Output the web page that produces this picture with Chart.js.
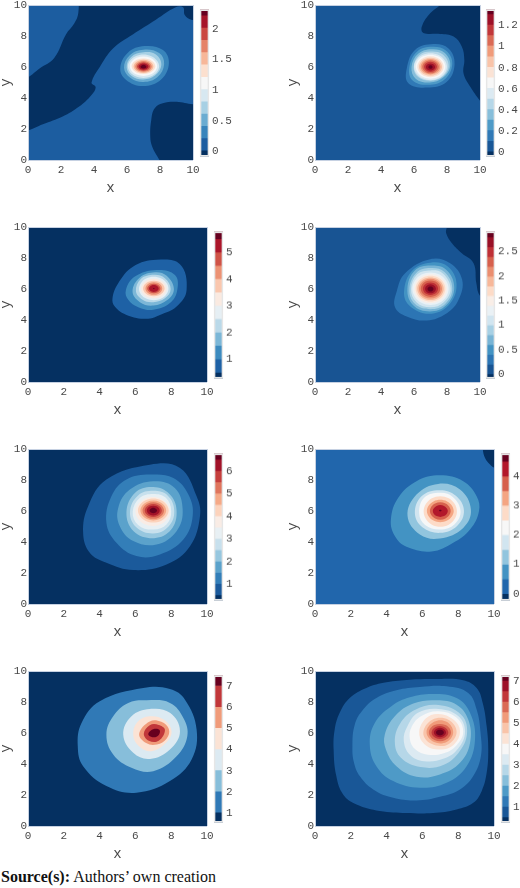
<!DOCTYPE html>
<html><head><meta charset="utf-8">
<script src="https://cdn.jsdelivr.net/npm/chart.js@4"></script>
<style>
html,body{margin:0;padding:0;background:#fff;width:520px;height:888px;overflow:hidden}
canvas{position:absolute}
#src{position:absolute;left:1px;top:868px;font:16px "Liberation Serif",serif;color:#111;white-space:nowrap}
</style></head><body>
<div id="src"><b>Source(s):</b> Authors’ own creation</div>
<script>
// Colour-bar band edges and tick labels
const p1Edges=[-0.08,0.02,0.22,0.42,0.62,0.82,1.02,1.22,1.42,1.62,1.82,2.02,2.22,2.31];
const p2Edges=[-0.04,0.01,0.11,0.21,0.31,0.41,0.51,0.61,0.71,0.81,0.91,1.01,1.11,1.21,1.31,1.35];
const p3Edges=[0.29,0.52,1.02,1.52,2.02,2.52,3.02,3.52,4.02,4.52,5.02,5.52,5.79];
const p4Edges=[-0.09,0,0.2,0.4,0.6,0.8,1,1.2,1.4,1.6,1.8,2,2.2,2.4,2.6,2.8,2.91];
const p5Edges=[0.28,0.52,1.02,1.52,2.02,2.52,3.02,3.52,4.02,4.52,5.02,5.52,6.02,6.52,6.77];
const p6Edges=[-0.23,0,0.5,1,1.5,2,2.5,3,3.5,4,4.5,4.76];
const p7Edges=[0.55,1.03,2.03,3.03,4.03,5.03,6.03,7.03,7.5];
const p8Edges=[0.27,0.53,1.03,1.53,2.03,2.53,3.03,3.53,4.03,4.53,5.03,5.53,6.03,6.53,7.03,7.26];
const p1Ticks=[0,0.5,1,1.5,2];
const p2Ticks=[0,0.2,0.4,0.6,0.8,1,1.2];
const p3Ticks=[1,2,3,4,5];
const p4Ticks=[0,0.5,1,1.5,2,2.5];
const p5Ticks=[1,2,3,4,5,6];
const p6Ticks=[0,1,2,3,4];
const p7Ticks=[1,2,3,4,5,6,7];
const p8Ticks=[1,2,3,4,5,6,7];
const axisTicks=[0,2,4,6,8,10];
const p1Base=1,p2Base=1,p3Base=0,p4Base=1,p5Base=0,p6Base=1,p7Base=0,p8Base=0;
// Contours: [band, closed?, x,y pairs in data units]
const p1Contours=[
[0,0,[3.05,11,3.05,9.5,2.8,8.8,2.3,8.1,1.6,6.6,.7,5.9,0,5.33,-1,4.8,-1,1.6,0,1.9,.9,2.3,2.1,2.8,3.1,3.45,3.85,4.2,4.1,4.7,3.85,5,4.35,6,5.15,7.2,6.35,8.1,7.75,9.05,8.95,9.85,9.4,9.85,9.5,9.35,9.9,9.05,11,9.1,11,11]],
[0,0,[11,3.6,10,3.6,9,3.76,8.17,3.66,7.67,3.33,7.47,2.58,7.41,1.5,7.53,.86,7.97,0,8.5,-1,11,-1]],
[2,1,[8.54,6.24,8.18,7.1,7.06,7.35,6.05,6.92,5.59,5.9,5.95,5.16,6.96,4.77,8.07,5.2]],
[3,1,[8.25,6.2,7.95,6.9,7,7.12,6.15,6.75,5.82,5.95,6.2,5.3,7,5.03,7.85,5.35]],
[4,1,[8.08,6.15,7.75,6.8,7,6.95,6.25,6.65,5.98,5.97,6.3,5.4,7,5.2,7.7,5.45]],
[5,1,[7.95,6.05,7.48,6.7,6.52,6.7,6.05,6.05,6.52,5.4,7.48,5.4]],
[6,1,[7.83,6.05,7.42,6.59,6.58,6.59,6.17,6.05,6.58,5.51,7.42,5.51]],
[7,1,[7.72,6.05,7.36,6.48,6.64,6.48,6.28,6.05,6.64,5.62,7.36,5.62]],
[8,1,[7.6,6.04,7.3,6.4,6.7,6.4,6.4,6.04,6.7,5.68,7.3,5.68]],
[9,1,[7.5,6.04,7.25,6.33,6.75,6.33,6.5,6.04,6.75,5.75,7.25,5.75]],
[10,1,[7.4,6.03,7.2,6.26,6.8,6.26,6.6,6.03,6.8,5.8,7.2,5.8]],
[11,1,[7.3,6.03,7.15,6.2,6.85,6.2,6.7,6.03,6.85,5.86,7.15,5.86]],
[12,1,[7.18,6.02,7.09,6.12,6.91,6.12,6.82,6.02,6.91,5.92,7.09,5.92]]];
const p2Contours=[
[0,0,[8.4,11,7.59,10,6.98,9.46,6.47,8.6,6.57,8.2,7.59,8.13,8.4,7.96,8.9,7.3,9.05,6.45,9,5.6,9.41,4.73,10,3.83,11,2.5,11,11]],
[2,1,[8.46,6.2,8.09,7.2,7.18,7.48,6.06,7.1,5.56,5.9,5.66,4.95,6.78,4.67,7.99,5.05]],
[3,1,[8.32,6.2,7.95,7.05,7.1,7.3,6.2,7,5.72,6,5.9,5.15,6.85,4.85,7.85,5.2]],
[4,1,[8.2,6.1,7.85,6.92,7.05,7.15,6.25,6.85,5.85,6,6.1,5.25,6.95,5,7.75,5.3]],
[5,1,[8.1,6.05,7.75,6.8,7,7,6.3,6.75,5.98,6,6.25,5.35,7,5.12,7.7,5.35]],
[6,1,[8,6.02,7.5,6.77,6.5,6.77,6,6.02,6.5,5.27,7.5,5.27]],
[7,1,[7.9,6.02,7.45,6.69,6.55,6.69,6.1,6.02,6.55,5.35,7.45,5.35]],
[8,1,[7.8,6.02,7.4,6.6,6.6,6.6,6.2,6.02,6.6,5.44,7.4,5.44]],
[9,1,[7.7,6.02,7.35,6.52,6.65,6.52,6.3,6.02,6.65,5.52,7.35,5.52]],
[10,1,[7.6,6.02,7.3,6.45,6.7,6.45,6.4,6.02,6.7,5.59,7.3,5.59]],
[11,1,[7.5,6.01,7.25,6.37,6.75,6.37,6.5,6.01,6.75,5.65,7.25,5.65]],
[12,1,[7.39,6.01,7.2,6.29,6.8,6.29,6.61,6.01,6.8,5.73,7.2,5.73]],
[13,1,[7.28,6,7.14,6.2,6.86,6.2,6.72,6,6.86,5.8,7.14,5.8]],
[14,1,[7.13,6,7.07,6.1,6.93,6.1,6.87,6,6.93,5.9,7.07,5.9]]];
const p3Contours=[
[1,1,[7.18,7.88,8.49,7.6,8.86,5.94,8.3,4.87,7.37,4.33,6.62,4.08,5.5,4.33,4.85,4.87,4.72,5.41,5.04,6.37,5.88,7.45]],
[2,1,[7.18,7.23,8.21,6.91,8.34,5.94,7.93,5.09,7,4.66,6.16,4.83,5.6,5.3,5.47,5.94,5.97,6.8]],
[3,1,[8.15,6,7.75,6.85,7.1,7.08,6.25,6.75,5.84,5.85,6.25,5.15,7,4.93,7.8,5.3]],
[4,1,[7.97,6,7.65,6.7,7.05,6.92,6.3,6.65,6.03,5.85,6.4,5.3,7,5.15,7.65,5.4]],
[5,1,[7.85,6.03,7.45,6.68,6.6,6.68,6.2,6,6.6,5.38,7.45,5.38]],
[6,1,[7.75,6.03,7.39,6.57,6.67,6.57,6.31,6.03,6.67,5.49,7.39,5.49]],
[7,1,[7.63,6.03,7.33,6.46,6.73,6.46,6.43,6.03,6.73,5.6,7.33,5.6]],
[8,1,[7.5,6.03,7.27,6.38,6.79,6.38,6.56,6.03,6.79,5.68,7.27,5.68]],
[9,1,[7.4,6.03,7.22,6.29,6.84,6.29,6.66,6.03,6.84,5.77,7.22,5.77]],
[10,1,[7.3,6.03,7.16,6.22,6.9,6.22,6.76,6.03,6.9,5.84,7.16,5.84]],
[11,1,[7.07,6.03,7.05,6.06,7.01,6.06,6.99,6.03,7.01,6,7.05,6]]];
const p4Contours=[
[0,0,[8.1,11,7.99,10,7.95,9.6,8.3,8.95,8.9,8.3,9.61,7.66,9.78,6.37,10,5.56,11,4.5,11,11]],
[2,1,[6.98,7.92,8.19,7.66,8.92,6.59,8.7,5.3,7.99,4.44,6.77,3.97,5.56,4.23,4.85,4.83,4.95,5.84,5.46,7.02]],
[3,1,[8.58,6.3,8.05,7.45,7,7.7,5.9,7.2,5.4,5.9,5.7,4.95,6.9,4.4,8.1,4.95]],
[4,1,[8.44,6.1,7.95,7.25,7,7.52,6.05,7.2,5.6,6,5.95,4.95,6.95,4.55,7.95,4.95]],
[5,1,[8.32,6.05,7.85,7.1,7,7.35,6.15,7.05,5.72,6,6.05,5.05,7,4.7,7.9,5.05]],
[6,1,[8.22,6.02,7.75,7,7,7.2,6.2,6.95,5.82,6,6.15,5.15,7,4.82,7.8,5.15]],
[7,1,[8.1,6.02,7.55,6.93,6.45,6.93,5.9,6.02,6.45,5.11,7.55,5.11]],
[8,1,[8,6.02,7.5,6.83,6.5,6.83,6,6.02,6.5,5.21,7.5,5.21]],
[9,1,[7.9,6.02,7.45,6.74,6.55,6.74,6.1,6.02,6.55,5.3,7.45,5.3]],
[10,1,[7.8,6.02,7.4,6.65,6.6,6.65,6.2,6.02,6.6,5.39,7.4,5.39]],
[11,1,[7.7,6.02,7.35,6.57,6.65,6.57,6.3,6.02,6.65,5.47,7.35,5.47]],
[12,1,[7.59,6.02,7.3,6.48,6.7,6.48,6.41,6.02,6.7,5.56,7.3,5.56]],
[13,1,[7.46,6.02,7.23,6.37,6.77,6.37,6.54,6.02,6.77,5.67,7.23,5.67]],
[14,1,[7.33,6.01,7.17,6.26,6.83,6.26,6.67,6.01,6.83,5.76,7.17,5.76]],
[15,1,[7.18,6,7.09,6.14,6.91,6.14,6.82,6,6.91,5.86,7.09,5.86]]];
const p5Contours=[
[1,1,[6.81,8.99,8.49,8.78,9.42,6.95,9.61,5.67,9.05,3.73,7.74,2.55,5.88,2.19,4.38,2.66,3.45,3.3,3.08,4.59,3.36,6.31,4.38,8.03]],
[2,1,[6.81,8.35,8.12,8.13,8.96,7.06,9.2,5.67,8.68,4.16,7.37,3.2,6.06,3.09,4.94,3.95,4.38,5.24,4.66,6.95,5.5,8.03]],
[3,1,[7,7.92,8.2,7.49,8.64,6.09,8.3,4.7,7.18,3.84,5.88,4.06,5.13,5.02,5.04,6.2,5.69,7.38]],
[4,1,[8.3,6.05,7.9,7.1,7,7.55,6,7.2,5.5,5.95,5.9,4.7,7.05,4.25,8,4.8]],
[5,1,[8.17,6,7.8,7,7,7.3,6.15,7,5.7,5.95,6.05,4.95,7,4.55,7.85,5]],
[6,1,[8,6,7.7,6.85,7,7.1,6.25,6.85,5.85,5.95,6.15,5.1,7,4.8,7.75,5.15]],
[7,1,[7.94,5.97,7.45,6.78,6.49,6.78,6,5.97,6.49,5.16,7.45,5.16]],
[8,1,[7.86,6.03,7.43,6.7,6.57,6.7,6.14,6.03,6.57,5.36,7.43,5.36]],
[9,1,[7.72,6.03,7.36,6.58,6.64,6.58,6.28,6.03,6.64,5.48,7.36,5.48]],
[10,1,[7.6,6.03,7.3,6.49,6.7,6.49,6.4,6.03,6.7,5.57,7.3,5.57]],
[11,1,[7.48,6.03,7.24,6.39,6.76,6.39,6.52,6.03,6.76,5.67,7.24,5.67]],
[12,1,[7.36,6.03,7.18,6.3,6.82,6.3,6.64,6.03,6.82,5.76,7.18,5.76]],
[13,1,[7.21,6.03,7.1,6.18,6.9,6.18,6.79,6.03,6.9,5.88,7.1,5.88]]];
const p6Contours=[
[0,0,[9.3,11,9.37,10,9.5,9.42,9.78,9,10,8.8,11,8.5,11,11]],
[2,1,[6.98,8.3,8.28,7.92,9.03,6.95,9.16,5.99,8.66,4.81,7.72,3.95,6.51,3.39,5.11,3.69,4.46,4.38,4.24,5.45,4.65,6.85,5.67,7.92]],
[3,1,[6.88,7.75,8.1,7.38,8.71,6.09,8.28,4.91,6.98,4.23,5.86,4.48,5.17,5.67,5.67,7.06]],
[4,1,[8.32,6.05,7.85,7,6.95,7.34,5.95,6.95,5.58,5.85,6,4.95,7,4.59,7.95,5.05]],
[5,1,[8.13,6,7.7,6.9,7,7.17,6.1,6.85,5.82,5.85,6.15,5.1,7,4.81,7.8,5.15]],
[6,1,[7.93,5.97,7.47,6.82,6.53,6.82,6.07,5.97,6.53,5.12,7.47,5.12]],
[7,1,[7.75,6,7.38,6.62,6.62,6.62,6.25,6,6.62,5.38,7.38,5.38]],
[8,1,[7.58,6,7.29,6.48,6.71,6.48,6.42,6,6.71,5.52,7.29,5.52]],
[9,1,[7.42,6,7.21,6.33,6.79,6.33,6.58,6,6.79,5.67,7.21,5.67]],
[10,1,[7.07,6.03,7.03,6.08,6.97,6.08,6.93,6.03,6.97,5.98,7.03,5.98]]];
const p7Contours=[
[1,1,[6.44,8.9,7.93,8.84,8.77,8.15,9.42,6.22,9.14,4.29,7.93,2.9,6.06,2.15,4.38,2.58,3.08,3.86,2.78,5.15,2.99,6.65,4.01,8.05]],
[2,1,[6.62,8.11,7.93,7.94,8.68,6.97,8.9,5.79,8.3,4.5,7,3.54,5.78,3.76,4.76,4.61,4.38,5.9,4.76,7.08,5.6,7.94]],
[3,1,[6.81,7.55,7.93,7.3,8.49,6.12,7.93,4.94,6.81,4.33,5.88,4.72,5.32,5.9,5.78,7.08]],
[4,1,[8.02,6.1,7.6,6.85,6.8,7.08,6.1,6.7,5.88,5.85,6.2,5.15,6.9,4.83,7.65,5.3]],
[5,1,[7.87,6.25,7.45,6.72,6.8,6.75,6.21,5.95,6.6,5.35,7.2,5.26,7.75,5.65]],
[6,1,[7.65,6.2,7.3,6.52,6.8,6.5,6.47,5.95,6.75,5.5,7.3,5.5]],
[7,1,[7.37,6.15,7.15,6.27,6.85,6.15,6.72,5.9,6.95,5.73,7.25,5.8]]];
const p8Contours=[
[1,1,[1.04,4.94,1.1,6.22,1.38,7.3,1.94,8.26,2.87,8.91,3.99,9.27,5.3,9.44,6.79,9.48,8.28,9.4,9.03,8.9,9.37,7.94,9.59,6.44,9.68,4.94,9.59,3.43,9.31,2.25,8.84,1.5,7.91,1.07,6.6,.84,5.11,.84,3.62,.97,2.32,1.39,1.57,2.04,1.19,3.22]],
[2,1,[2.09,5.15,2.22,6.54,2.69,7.51,3.43,8.26,4.55,8.76,5.86,8.97,7.35,9.01,8.56,8.58,9.03,7.51,9.25,6,9.27,4.51,8.84,3.22,8.1,2.36,6.98,1.89,5.67,1.65,4.37,1.82,3.25,2.36,2.5,3.22,2.18,4.08]],
[3,1,[6.6,8.52,7.91,8.26,8.66,7.3,8.94,5.58,8.47,3.86,7.35,2.79,5.86,2.47,4.37,2.9,3.43,3.86,3.06,5.26,3.34,6.65,4.27,7.73,5.3,8.3]],
[4,1,[6.79,8.11,7.91,7.83,8.56,6.87,8.66,5.36,8.1,4.08,6.98,3.33,5.67,3.18,4.55,3.86,3.96,4.94,3.9,5.9,4.46,7.08,5.49,7.9]],
[5,1,[8.5,6.1,8.15,7.2,6.9,7.8,5.6,7.5,4.75,6.6,4.46,5.4,4.8,4.4,5.9,3.8,7.2,3.95,8.1,4.85]],
[6,1,[8.38,6.1,8,7.1,6.9,7.55,5.75,7.3,5.15,6.4,4.96,5.5,5.3,4.6,6.1,4.18,7.2,4.35,8,5]],
[7,1,[8.28,6.1,7.9,7,6.9,7.4,5.95,7.1,5.4,6.4,5.3,5.6,5.6,4.95,6.3,4.6,7.2,4.7,7.9,5.2]],
[8,1,[8.1,6.1,7.75,6.85,6.9,7.23,6.2,6.95,5.82,6,6.2,5.2,7,4.94,7.75,5.25]],
[9,1,[7.91,6.05,7.45,6.85,6.55,6.85,6.05,6,6.5,5.3,7.4,5.25]],
[10,1,[7.72,6.05,7.35,6.72,6.65,6.72,6.23,6.05,6.65,5.42,7.35,5.42]],
[11,1,[7.6,6.03,7.29,6.51,6.67,6.51,6.36,6.03,6.67,5.55,7.29,5.55]],
[12,1,[7.45,6.03,7.21,6.39,6.74,6.39,6.51,6.03,6.74,5.67,7.21,5.67]],
[13,1,[7.32,6.03,7.15,6.29,6.81,6.29,6.64,6.03,6.81,5.77,7.15,5.77]],
[14,1,[7.2,6.03,7.09,6.19,6.87,6.19,6.76,6.03,6.87,5.87,7.09,5.87]]];
const fullSquare=[-1,-1,11,-1,11,11,-1,11];

// Layout (pixels) kept apart from the data
const panels=[
 {e:p1Edges,t:p1Ticks,b:p1Base,c:p1Contours,l:28,top:5,w:165,cb:200,cbt:7.5,cbh:150},
 {e:p2Edges,t:p2Ticks,b:p2Base,c:p2Contours,l:315,top:5,w:165,cb:486,cbt:7.5,cbh:150},
 {e:p3Edges,t:p3Ticks,b:p3Base,c:p3Contours,l:28,top:227,w:179,cb:214,cbt:230,cbh:149.5},
 {e:p4Edges,t:p4Ticks,b:p4Base,c:p4Contours,l:315,top:227,w:165,cb:486,cbt:230,cbh:149.5},
 {e:p5Edges,t:p5Ticks,b:p5Base,c:p5Contours,l:28,top:449,w:179,cb:214,cbt:452,cbh:149.5},
 {e:p6Edges,t:p6Ticks,b:p6Base,c:p6Contours,l:315,top:449,w:179,cb:501,cbt:452,cbh:149.5},
 {e:p7Edges,t:p7Ticks,b:p7Base,c:p7Contours,l:28,top:671,w:179,cb:214,cbt:674,cbh:150},
 {e:p8Edges,t:p8Ticks,b:p8Base,c:p8Contours,l:315,top:671,w:179,cb:501,cbt:674,cbh:150}];
const PH=155,LEFT=30,RIGHT=10,TOPPAD=8,BOTTOM=37,TXT='#484848',FRAME='#c6d1e2',FONT='"Liberation Mono",monospace';

const stops=[[5,48,97],[33,102,172],[67,147,195],[146,197,222],[209,229,240],[247,247,247],[253,219,199],[244,165,130],[214,96,77],[178,24,43],[103,0,31]];
function cmap(t){const f=Math.min(t,0.9999)*10,i=Math.floor(f),a=stops[i],b=stops[i+1],u=f-i;
 return `rgb(${a.map((v,k)=>Math.round(v+(b[k]-v)*u)).join(',')})`;}
function pts(flat){const r=[];for(let i=0;i<flat.length;i+=2)r.push({x:flat[i],y:flat[i+1]});return r;}
function ring(flat){const p=pts(flat);return [p[p.length-1],...p,p[0],p[1]];}
function mk(l,t,w,h){const c=document.createElement('canvas');c.width=w;c.height=h;
 c.style.cssText=`left:${l}px;top:${t}px;width:${w}px;height:${h}px`;document.body.appendChild(c);return c;}
const frameGrid={z:1,drawTicks:false,lineWidth:1,color:c=>(c.tick&&(c.tick.value===0||c.tick.value===10))?FRAME:'rgba(0,0,0,0)'};

panels.forEach(p=>{
 const n=p.e.length-1,col=i=>cmap(i/(n-1));
 const list=[[p.b,2,fullSquare],...p.c];
 const datasets=list.map((c,i)=>({
  data:c[1]===1?ring(c[2]):pts(c[2]),showLine:true,fill:'shape',backgroundColor:col(c[0]),
  borderWidth:0,pointRadius:0,tension:c[1]===2?0:0.4,order:list.length-i}));
 const axis=(title,axisFit)=>({min:0,max:10,grid:frameGrid,border:{display:false},
  ticks:{font:{family:FONT,size:11},color:TXT,maxRotation:0,autoSkip:false,padding:axisFit==='y'?1:3},
  afterBuildTicks:s=>{s.ticks=axisTicks.map(v=>({value:v}));},
  afterFit:s=>{if(axisFit==='y')s.width=LEFT;else s.height=BOTTOM;},
  title:{display:true,text:title,font:{family:FONT,size:14},color:TXT,padding:{top:0,bottom:0}}});
 new Chart(mk(p.l-LEFT,p.top-TOPPAD,p.w+LEFT+RIGHT,PH+TOPPAD+BOTTOM),{type:'scatter',data:{datasets},
  options:{responsive:false,animation:false,layout:{padding:{top:TOPPAD,right:RIGHT}},
   plugins:{legend:{display:false},tooltip:{enabled:false}},
   scales:{x:axis('x','x'),y:axis('y','y')}}});

 // colour bar
 const ds=[];
 for(let i=n-1;i>=0;i--)ds.push({data:[[p.e[i],p.e[i+1]]],backgroundColor:col(i),borderWidth:0,grouped:false,barPercentage:1,categoryPercentage:1});
 ds.unshift({data:[[p.e[0],p.e[n]]],backgroundColor:'rgba(0,0,0,0)',borderColor:'#e6e6e6',borderWidth:1,borderSkipped:false,grouped:false,barPercentage:1,categoryPercentage:1,clip:false});
 const cw=Math.min(50,520-(p.cb-4));
 new Chart(mk(p.cb-4,p.cbt-8,cw,p.cbh+16),{type:'bar',data:{labels:['z'],datasets:ds},
  options:{responsive:false,animation:false,layout:{padding:{left:4,top:8,bottom:8}},
   plugins:{legend:{display:false},tooltip:{enabled:false}},
   scales:{x:{display:false},
    y:{position:'right',min:p.e[0],max:p.e[n],grid:{display:false,drawTicks:false},border:{display:false},
     ticks:{font:{family:FONT,size:11},color:TXT,padding:3,callback:v=>String(v)},
     afterBuildTicks:s=>{s.ticks=p.t.map(v=>({value:v}));},
     afterFit:s=>{s.width=cw-13;}}}}});
});
</script>
</body></html>
